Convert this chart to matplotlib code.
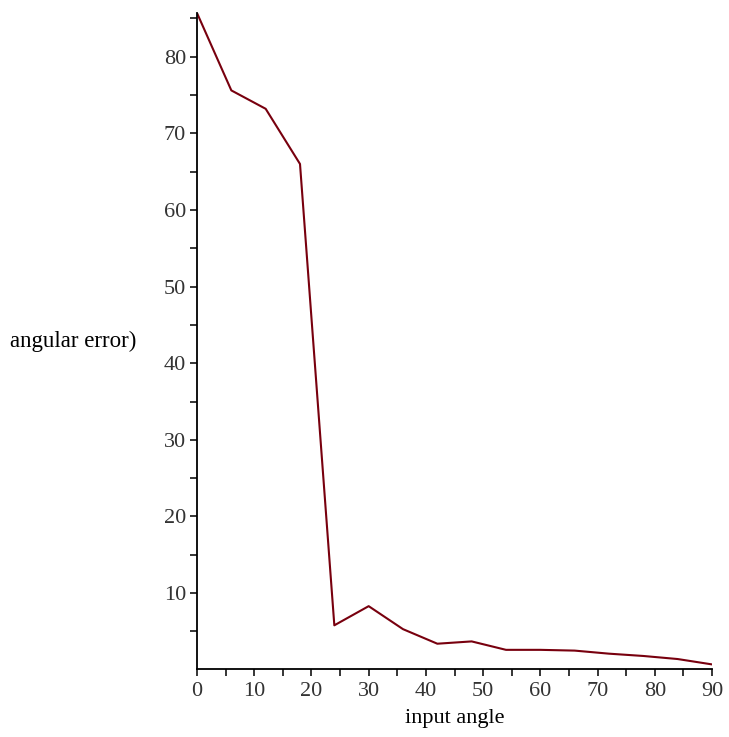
import matplotlib
matplotlib.use("Agg")
import matplotlib.pyplot as plt
from matplotlib.ticker import MultipleLocator

input_angle = [0, 6, 12, 18, 24, 30, 36, 42, 48, 54, 60, 66, 72, 78, 84, 90]
angular_error = [85.7, 75.6, 73.2, 66.0, 5.8, 8.3, 5.3, 3.4, 3.7, 2.6, 2.6, 2.5, 2.1, 1.8, 1.4, 0.7]
y_ticks = [10, 20, 30, 40, 50, 60, 70, 80]
x_ticks = [0, 10, 20, 30, 40, 50, 60, 70, 80, 90]

plt.rcParams['font.family'] = ['Liberation Serif', 'DejaVu Serif']

fig = plt.figure(figsize=(7.29, 7.37), dpi=100)
ax = fig.add_axes([197/729, 1 - 669/737, (712 - 197)/729, (669 - 13)/737])
ax.plot(input_angle, angular_error, color='#78000E', lw=1.5)
ax.set_xlim(0, 90)
ax.set_ylim(0.1, 85.7)
ax.set_xticks(x_ticks)
ax.set_yticks(y_ticks)
ax.xaxis.set_minor_locator(MultipleLocator(5))
ax.yaxis.set_minor_locator(MultipleLocator(5))
for s in ['top', 'right']:
    ax.spines[s].set_visible(False)
for s in ['left', 'bottom']:
    ax.spines[s].set_linewidth(1.3)
    ax.spines[s].set_color('black')
ax.tick_params(which='both', direction='out', length=5, width=1.1, colors='black', labelsize=16, labelcolor='#333333')
ax.tick_params(axis='x', pad=4)
ax.tick_params(axis='y', pad=3)
ax.set_xlabel('input angle', fontsize=16, labelpad=6)
fig.text(10/729, 1 - 341/737, 'angular error)', fontsize=16.5, ha='left', va='center')
fig.savefig('out.png', dpi=100)
